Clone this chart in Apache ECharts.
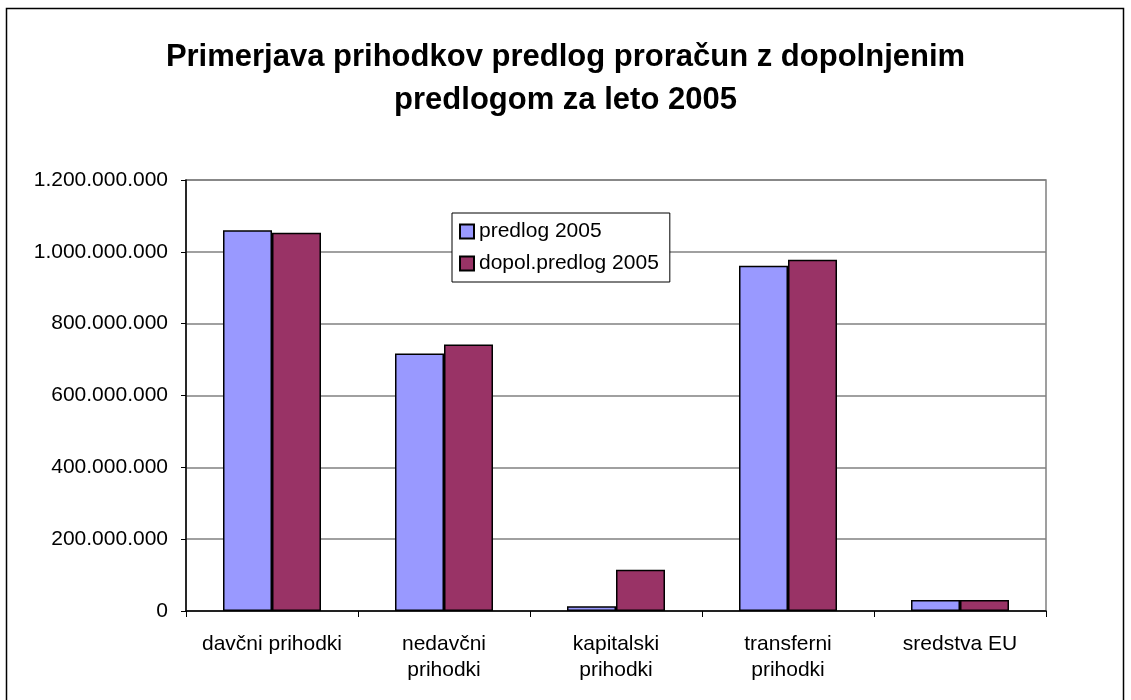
<!DOCTYPE html>
<html>
<head>
<meta charset="utf-8">
<script src="https://cdn.jsdelivr.net/npm/echarts@6/dist/echarts.min.js"></script>
<style>
html,body{margin:0;padding:0;background:#fff;}
#c{width:1131px;height:700px;}
</style>
</head>
<body>
<div id="c"></div>
<script>
var categories = ['davčni prihodki', 'nedavčni\nprihodki', 'kapitalski\nprihodki', 'transferni\nprihodki', 'sredstva EU'];
var seriesNames = ['predlog 2005', 'dopol.predlog 2005'];
var predlog2005 = [1060000000, 717000000, 13000000, 961000000, 30500000];
var dopolPredlog2005 = [1053000000, 742000000, 115000000, 978000000, 30500000];
var titleText = 'Primerjava prihodkov predlog proračun z dopolnjenim\npredlogom za leto 2005';

var FONT = "'Liberation Sans', Arial, sans-serif";
function fmt(v){
  return String(Math.round(v)).replace(/\B(?=(\d{3})+(?!\d))/g, '.');
}
var chart = echarts.init(document.getElementById('c'), null, {renderer:'canvas'});
chart.setOption({
  animation:false,
  backgroundColor:'#ffffff',
  title:{
    text:titleText,
    left:'center',
    top:31,
    textStyle:{fontFamily:FONT,fontSize:31,fontWeight:'bold',color:'#000',lineHeight:43,align:'center'}
  },
  graphic:[{
    type:'rect', z:-10,
    shape:{x:6.5,y:8.5,width:1117,height:700},
    style:{fill:'none',stroke:'#000',lineWidth:1.5}
  }],
  legend:{
    orient:'vertical',
    left:452, top:213,
    padding:[8,11,8,7],
    itemGap:11,
    itemWidth:14, itemHeight:14,
    icon:'rect',
    borderColor:'#000', borderWidth:1,
    backgroundColor:'#fff',
    textStyle:{fontFamily:FONT,fontSize:21,color:'#000',lineHeight:20},
    data:seriesNames
  },
  grid:{left:186,right:85,top:180,bottom:89,show:true,borderColor:'#808080',borderWidth:1.5},
  xAxis:{
    type:'category',
    data:categories,
    axisLine:{lineStyle:{color:'#000',width:1.5}},
    axisTick:{show:true,length:6,lineStyle:{color:'#000',width:1}},
    axisLabel:{fontFamily:FONT,fontSize:21,color:'#000',lineHeight:26,margin:20,interval:0}
  },
  yAxis:{
    type:'value',
    min:0,max:1200000000,interval:200000000,
    axisLine:{show:true,lineStyle:{color:'#000',width:1.5}},
    axisTick:{show:true,length:5,lineStyle:{color:'#000',width:1}},
    splitLine:{lineStyle:{color:'#808080',width:1.5}},
    axisLabel:{fontFamily:FONT,fontSize:21,color:'#000',margin:18,formatter:fmt}
  },
  series:[{
    name:seriesNames[0], type:'bar', data:predlog2005,
    barWidth:49, barGap:'0%',
    itemStyle:{color:'#9999FF',borderColor:'#000',borderWidth:1.5}
  },{
    name:seriesNames[1], type:'bar', data:dopolPredlog2005,
    barWidth:49, barGap:'0%',
    itemStyle:{color:'#993366',borderColor:'#000',borderWidth:1.5}
  }]
});
</script>
</body>
</html>
